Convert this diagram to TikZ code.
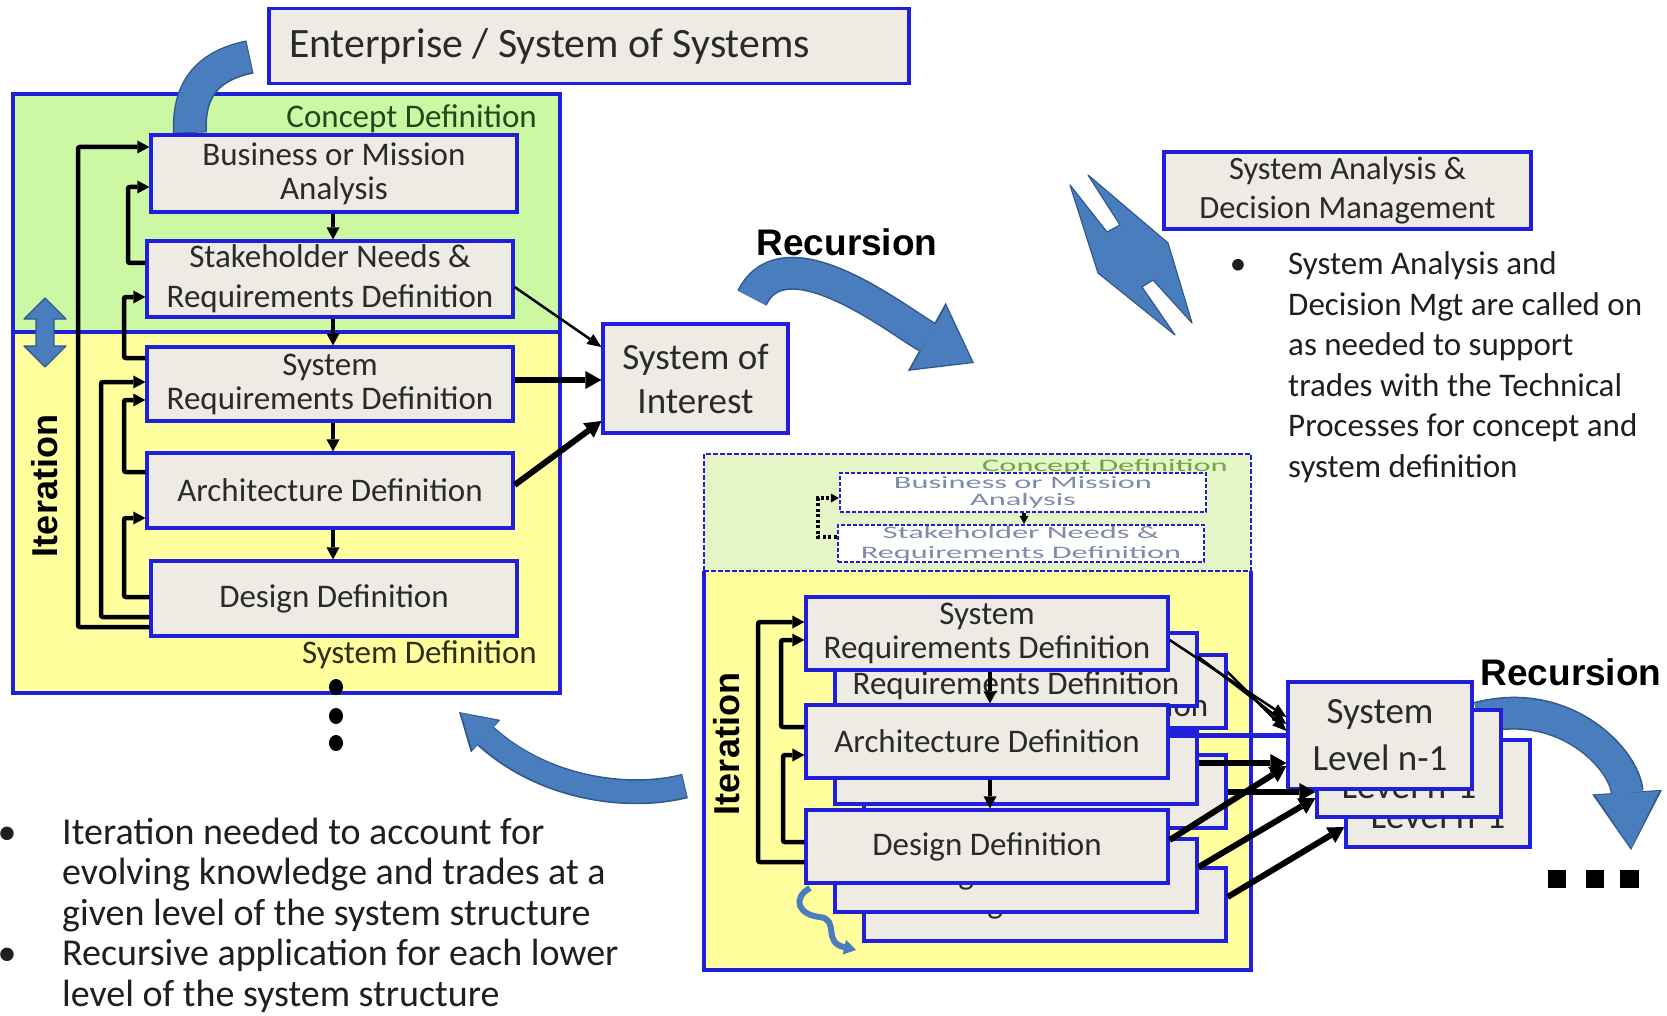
\documentclass[tikz,border=0pt]{standalone}
\usepackage{fontspec}
\usepackage{graphicx}
\setmainfont{Carlito}
\newfontfamily\headfont{Liberation Sans}
\usetikzlibrary{arrows.meta}

\definecolor{boxfill}{HTML}{EDEBE3}
\definecolor{boxline}{HTML}{2020DA}
\definecolor{conceptgreen}{HTML}{CCF8A4}
\definecolor{sysyellow}{HTML}{FFFF9E}
\definecolor{palegreen}{HTML}{E6F5C8}
\definecolor{swooshblue}{HTML}{4A7DBD}
\definecolor{swooshedge}{HTML}{2E5A8E}
\definecolor{inktext}{HTML}{2A2A2A}
\definecolor{fadedtext}{HTML}{7E8CAA}
\definecolor{fadedgreen}{HTML}{6EA548}
\definecolor{conceptdark}{HTML}{1F4A1C}
\definecolor{sysdark}{HTML}{2E2E12}

\begin{document}
\begin{tikzpicture}[x=1pt, y=-1pt,
  proc/.style={draw=boxline, line width=3.2pt, fill=boxfill, text=inktext, align=center,
    inner sep=0pt, font=\fontsize{33}{34}\selectfont},
  ghost/.style={draw=boxline, line width=2.2pt, dash pattern=on 4pt off 2pt, fill=white,
    text=fadedtext, align=center, inner sep=0pt, font=\fontsize{17.5}{18}\selectfont},
  panel/.style={draw=boxline, line width=3.5pt},
  dashedpanel/.style={draw=boxline, line width=2.5pt, dash pattern=on 5pt off 2pt},
  flow/.style={draw=black, line width=4.5pt, rounded corners=2pt,
    -{Triangle[length=12pt,width=13pt,line width=0pt]}},
  thinflow/.style={draw=black, line width=2.5pt, -{Triangle[length=14pt,width=12pt,line width=0pt]}},
  thickflow/.style={draw=black, line width=6pt, -{Triangle[length=16pt,width=18pt,line width=0pt]}},
  dotflow/.style={draw=black, line width=3.5pt, dash pattern=on 3pt off 2.5pt,
    -{Triangle[length=8pt,width=9pt,line width=0pt]}},
  notched/.style={fill=swooshblue, draw=swooshedge, line width=1.2pt, line join=round},
  bodytext/.style={text=black!88, inner sep=0pt},
  headlab/.style={inner sep=0pt, font=\fontsize{37}{40}\headfont\bfseries},
  iterlab/.style={inner sep=0pt, rotate=90, font=\fontsize{36}{40}\headfont\bfseries}
]
\path[fill=white] (0,0) rectangle (1667,1016);
\useasboundingbox (0,0) rectangle (1667,1016);

% ================= upper-left panel: concept and system definition =================
\path[fill=conceptgreen] (13,94) rectangle (560,332);
\path[fill=sysyellow] (13,332) rectangle (560,693);
\draw[panel] (13,94) rectangle (560,693);
\draw[panel] (13,332) -- (560,332);

\node[anchor=east, text=conceptdark, inner sep=0pt, font=\fontsize{33}{36}\selectfont] (cdlab) at (537,119) {Concept Definition};
\node[anchor=east, text=sysdark, inner sep=0pt, font=\fontsize{33}{36}\selectfont] (sdlab) at (537,655) {System Definition};

% swoosh rising towards the enterprise level
\draw[swooshedge, line width=34pt] (190,133) .. controls (188,92) and (205,66) .. (250,57);
\draw[swooshblue, line width=31pt] (190,132) .. controls (188,92) and (205,66) .. (249,57);

\node[proc, font=\fontsize{41.8}{50}\selectfont, minimum width=640pt, minimum height=75pt]
  (ent) at (589,46) {\makebox[600pt][l]{Enterprise / System of Systems}};

\node[proc, minimum width=366pt, minimum height=77pt] (bma) at (334,173.5) {Business or Mission\\Analysis};
\node[proc, minimum width=366pt, minimum height=76pt, font=\fontsize{33}{40}\selectfont] (snr) at (330,279) {Stakeholder Needs \&\\Requirements Definition};
\node[proc, minimum width=366pt, minimum height=74pt] (srd) at (330,384) {System\\Requirements Definition};
\node[proc, minimum width=366pt, minimum height=75pt] (arc) at (330,490.5) {Architecture Definition};
\node[proc, minimum width=366pt, minimum height=75pt] (dsd) at (334,598.5) {Design Definition};

% forward flow
\draw[flow] (bma.south -| 333,0) -- (snr.north -| 333,0);
\draw[flow] (snr.south -| 333,0) -- (srd.north -| 333,0);
\draw[flow] (srd.south -| 333,0) -- (arc.north -| 333,0);
\draw[flow] (arc.south -| 333,0) -- (dsd.north -| 333,0);

% iteration loops
\draw[flow] (dsd.west |- 0,627) -| (78,147) -- (bma.west |- 0,147);
\draw[flow] (dsd.west |- 0,617) -| (101,382) -- (srd.west |- 0,382);
\draw[flow] (dsd.west |- 0,597) -| (124,518) -- (arc.west |- 0,518);
\draw[flow] (arc.west |- 0,472) -| (124,400) -- (srd.west |- 0,400);
\draw[flow] (srd.west |- 0,358) -| (124,297) -- (snr.west |- 0,297);
\draw[flow] (snr.west |- 0,263) -| (128,187) -- (bma.west |- 0,187);

% iteration label and two-way arrow
\node[iterlab] (itl) at (45,486) {Iteration};
\fill[notched] (45,298) -- (66,319) -- (54,319) -- (54,346) -- (66,346) -- (45,367)
  -- (24,346) -- (36,346) -- (36,319) -- (24,319) -- cycle;

% continuation dots
\fill (336,687) ellipse (7pt and 8pt);
\fill (336,716) ellipse (7pt and 8pt);
\fill (336,743) ellipse (7pt and 8pt);

% ================= system of interest =================
\node[proc, font=\fontsize{37}{44}\selectfont, minimum width=185pt, minimum height=109pt] (soi) at (695.5,378.5) {System of\\Interest};
\draw[thinflow] (snr.east |- 0,287) -- (soi.west |- 0,347);
\draw[thickflow] (srd.east |- 0,380) -- (soi.west |- 0,380);
\draw[thickflow] (arc.east |- 0,485) -- (soi.west |- 0,421);

\node[headlab] (rec1) at (847,242) {Recursion};
\draw[swooshedge, line width=33pt, -{Triangle[length=54pt,width=78pt,line width=0pt]}]
  (752,298) .. controls (785,230) and (900,322) .. (974,363);
\draw[swooshblue, line width=30pt, -{Triangle[length=50pt,width=72pt,line width=0pt]}]
  (752,298) .. controls (785,230) and (900,322) .. (972,362);

% ================= analysis and decision management =================
\node[proc, font=\fontsize{32.5}{39}\selectfont, minimum width=367pt, minimum height=77pt] (sadm) at (1347.5,190.5) {System Analysis \&\\Decision Management};
\filldraw[notched] (1070,185) -- (1098,273) -- (1175,335) -- (1142,287) -- (1153,280)
  -- (1192,323) -- (1168,243) -- (1088,175) -- (1120,225) -- (1107,232) -- cycle;

\node[bodytext, anchor=base, font=\fontsize{33}{40}\selectfont] (rb1) at (1238,275) {•};
\foreach \t [count=\i] in {System Analysis and, Decision Mgt are called on, as needed to support,
  trades with the Technical, Processes for concept and, system definition}{
  \node[bodytext, anchor=base west, font=\fontsize{33}{40}\selectfont] (rt\i) at (1288,234.6+40.4*\i) {\t};
}

% ================= lower panel: next level down =================
\path[fill=palegreen] (704,454) rectangle (1251,571);
\path[fill=sysyellow] (704,571) rectangle (1251,970);
\draw[dashedpanel] (704,571) -- (704,454) -- (1251,454) -- (1251,571);
\draw[dashedpanel] (704,571) -- (1251,571);
\draw[panel] (704,571) -- (704,970) -- (1251,970) -- (1251,571);

\node[anchor=east, text=fadedgreen, inner sep=0pt, font=\fontsize{17.5}{20}\selectfont] (cd2) at (1228,467) {\scalebox{1.85}[1]{Concept Definition}};
\node[ghost, minimum width=366pt, minimum height=39pt, font=\fontsize{17.5}{17}\selectfont] (gbm) at (1023,492.5) {\scalebox{1.85}[1]{Business or Mission}\\\scalebox{1.85}[1]{Analysis}};
\node[ghost, minimum width=366pt, minimum height=37pt, font=\fontsize{17.5}{20}\selectfont] (gsn) at (1021,543.5) {\scalebox{1.85}[1]{Stakeholder Needs \&}\\\scalebox{1.85}[1]{Requirements Definition}};
\draw[dotflow] (gbm.south -| 1024,0) -- (gsn.north -| 1024,0);
\draw[dotflow] (gsn.west |- 0,537) -| (818,498) -- (gbm.west |- 0,498);

% stacked copies of the technical processes, back to front
\foreach \p/\dx/\ya/\yb/\yc in {k/58/58/50/58, m/29/36/26/29, f/0/0/0/0}{
  \node[proc, minimum width=362pt, minimum height=73pt] (\p sr) at (987+\dx,633.5+\ya) {System\\Requirements Definition};
  \node[proc, minimum width=362pt, minimum height=73pt] (\p ar) at (987+\dx,741.5+\yb) {Architecture Definition};
  \node[proc, minimum width=362pt, minimum height=73pt] (\p dd) at (987+\dx,846.5+\yc) {Design Definition};
}

\draw[flow] (fsr.south -| 990,0) -- (far.north -| 990,0);
\draw[flow] (far.south -| 990,0) -- (fdd.north -| 990,0);
\draw[flow] (fdd.west |- 0,862) -| (758,622) -- (fsr.west |- 0,622);
\draw[flow] (far.west |- 0,727) -| (781,640) -- (fsr.west |- 0,640);
\draw[flow] (fdd.west |- 0,842) -| (783,755) -- (far.west |- 0,755);

\node[iterlab] (itr) at (727,744) {Iteration};

% small turning arrow under the stack
\draw[swooshblue, line width=6pt, -{Triangle[length=12pt,width=15pt,line width=0pt]}]
  (810,888) .. controls (792,898) and (798,915) .. (820,917) .. controls (840,920) and (822,942) .. (856,950);

% ================= systems at level n-1 =================
\draw[swooshedge, line width=33pt, -{Triangle[length=58pt,width=70pt,line width=0pt]}]
  (1478,718) .. controls (1565,695) and (1625,760) .. (1631,850);
\draw[swooshblue, line width=30pt, -{Triangle[length=55pt,width=64pt,line width=0pt]}]
  (1478,718) .. controls (1565,695) and (1625,760) .. (1631,848);

\foreach \p/\dx/\dy in {2/58/58, 1/29/28, 0/0/0}{
  \node[proc, font=\fontsize{37}{47}\selectfont, minimum width=184pt, minimum height=107pt] (sl\p) at (1380+\dx,735.5+\dy) {System\\Level n-1};
}

\draw[thinflow] (fsr.east |- 0,640) -- (sl0.west |- 0,717);
\draw[thinflow] (msr.east |- 0,657) -- (sl0.west |- 0,724);
\draw[thinflow] (ksr.east |- 0,672) -- (sl0.west |- 0,731);
\draw[draw=boxline, line width=5pt] (far.east |- 0,735) -- (sl0.west |- 0,735);
\draw[thickflow] (mar.east |- 0,763) -- (sl0.west |- 0,763);
\draw[thickflow] (kar.east |- 0,792) -- (sl1.west |- 0,792);
\draw[thickflow] (fdd.east |- 0,840) -- (sl0.west |- 0,766);
\draw[thickflow] (mdd.east |- 0,867) -- (sl1.west |- 0,798);
\draw[thickflow] (kdd.east |- 0,897) -- (sl2.west |- 0,827);

\node[headlab] (rec2) at (1571,672) {Recursion};
\fill (1548,870) rectangle ++(18,18);
\fill (1586,870) rectangle ++(18,18);
\fill (1620,870) rectangle ++(19,18);

% ================= return arrow between levels =================
\draw[swooshedge, line width=25pt, -{Triangle[length=36pt,width=44pt,line width=0pt]}]
  (685,786) .. controls (630,800) and (545,790) .. (459,712);
\draw[swooshblue, line width=22pt, -{Triangle[length=33pt,width=39pt,line width=0pt]}]
  (684,786) .. controls (630,800) and (545,790) .. (461,713);

% ================= notes =================
\node[bodytext, anchor=base, font=\fontsize{38}{41}\selectfont] (lb1) at (7,844) {•};
\node[bodytext, anchor=base, font=\fontsize{38}{41}\selectfont] (lb2) at (7,965.5) {•};
\foreach \t [count=\i] in {Iteration needed to account for, evolving knowledge and trades at a,
  given level of the system structure, Recursive application for each lower, level of the system structure}{
  \node[bodytext, anchor=base west, font=\fontsize{38}{41}\selectfont] (lt\i) at (62,803.5+40.5*\i) {\t};
}
\end{tikzpicture}
\end{document}
